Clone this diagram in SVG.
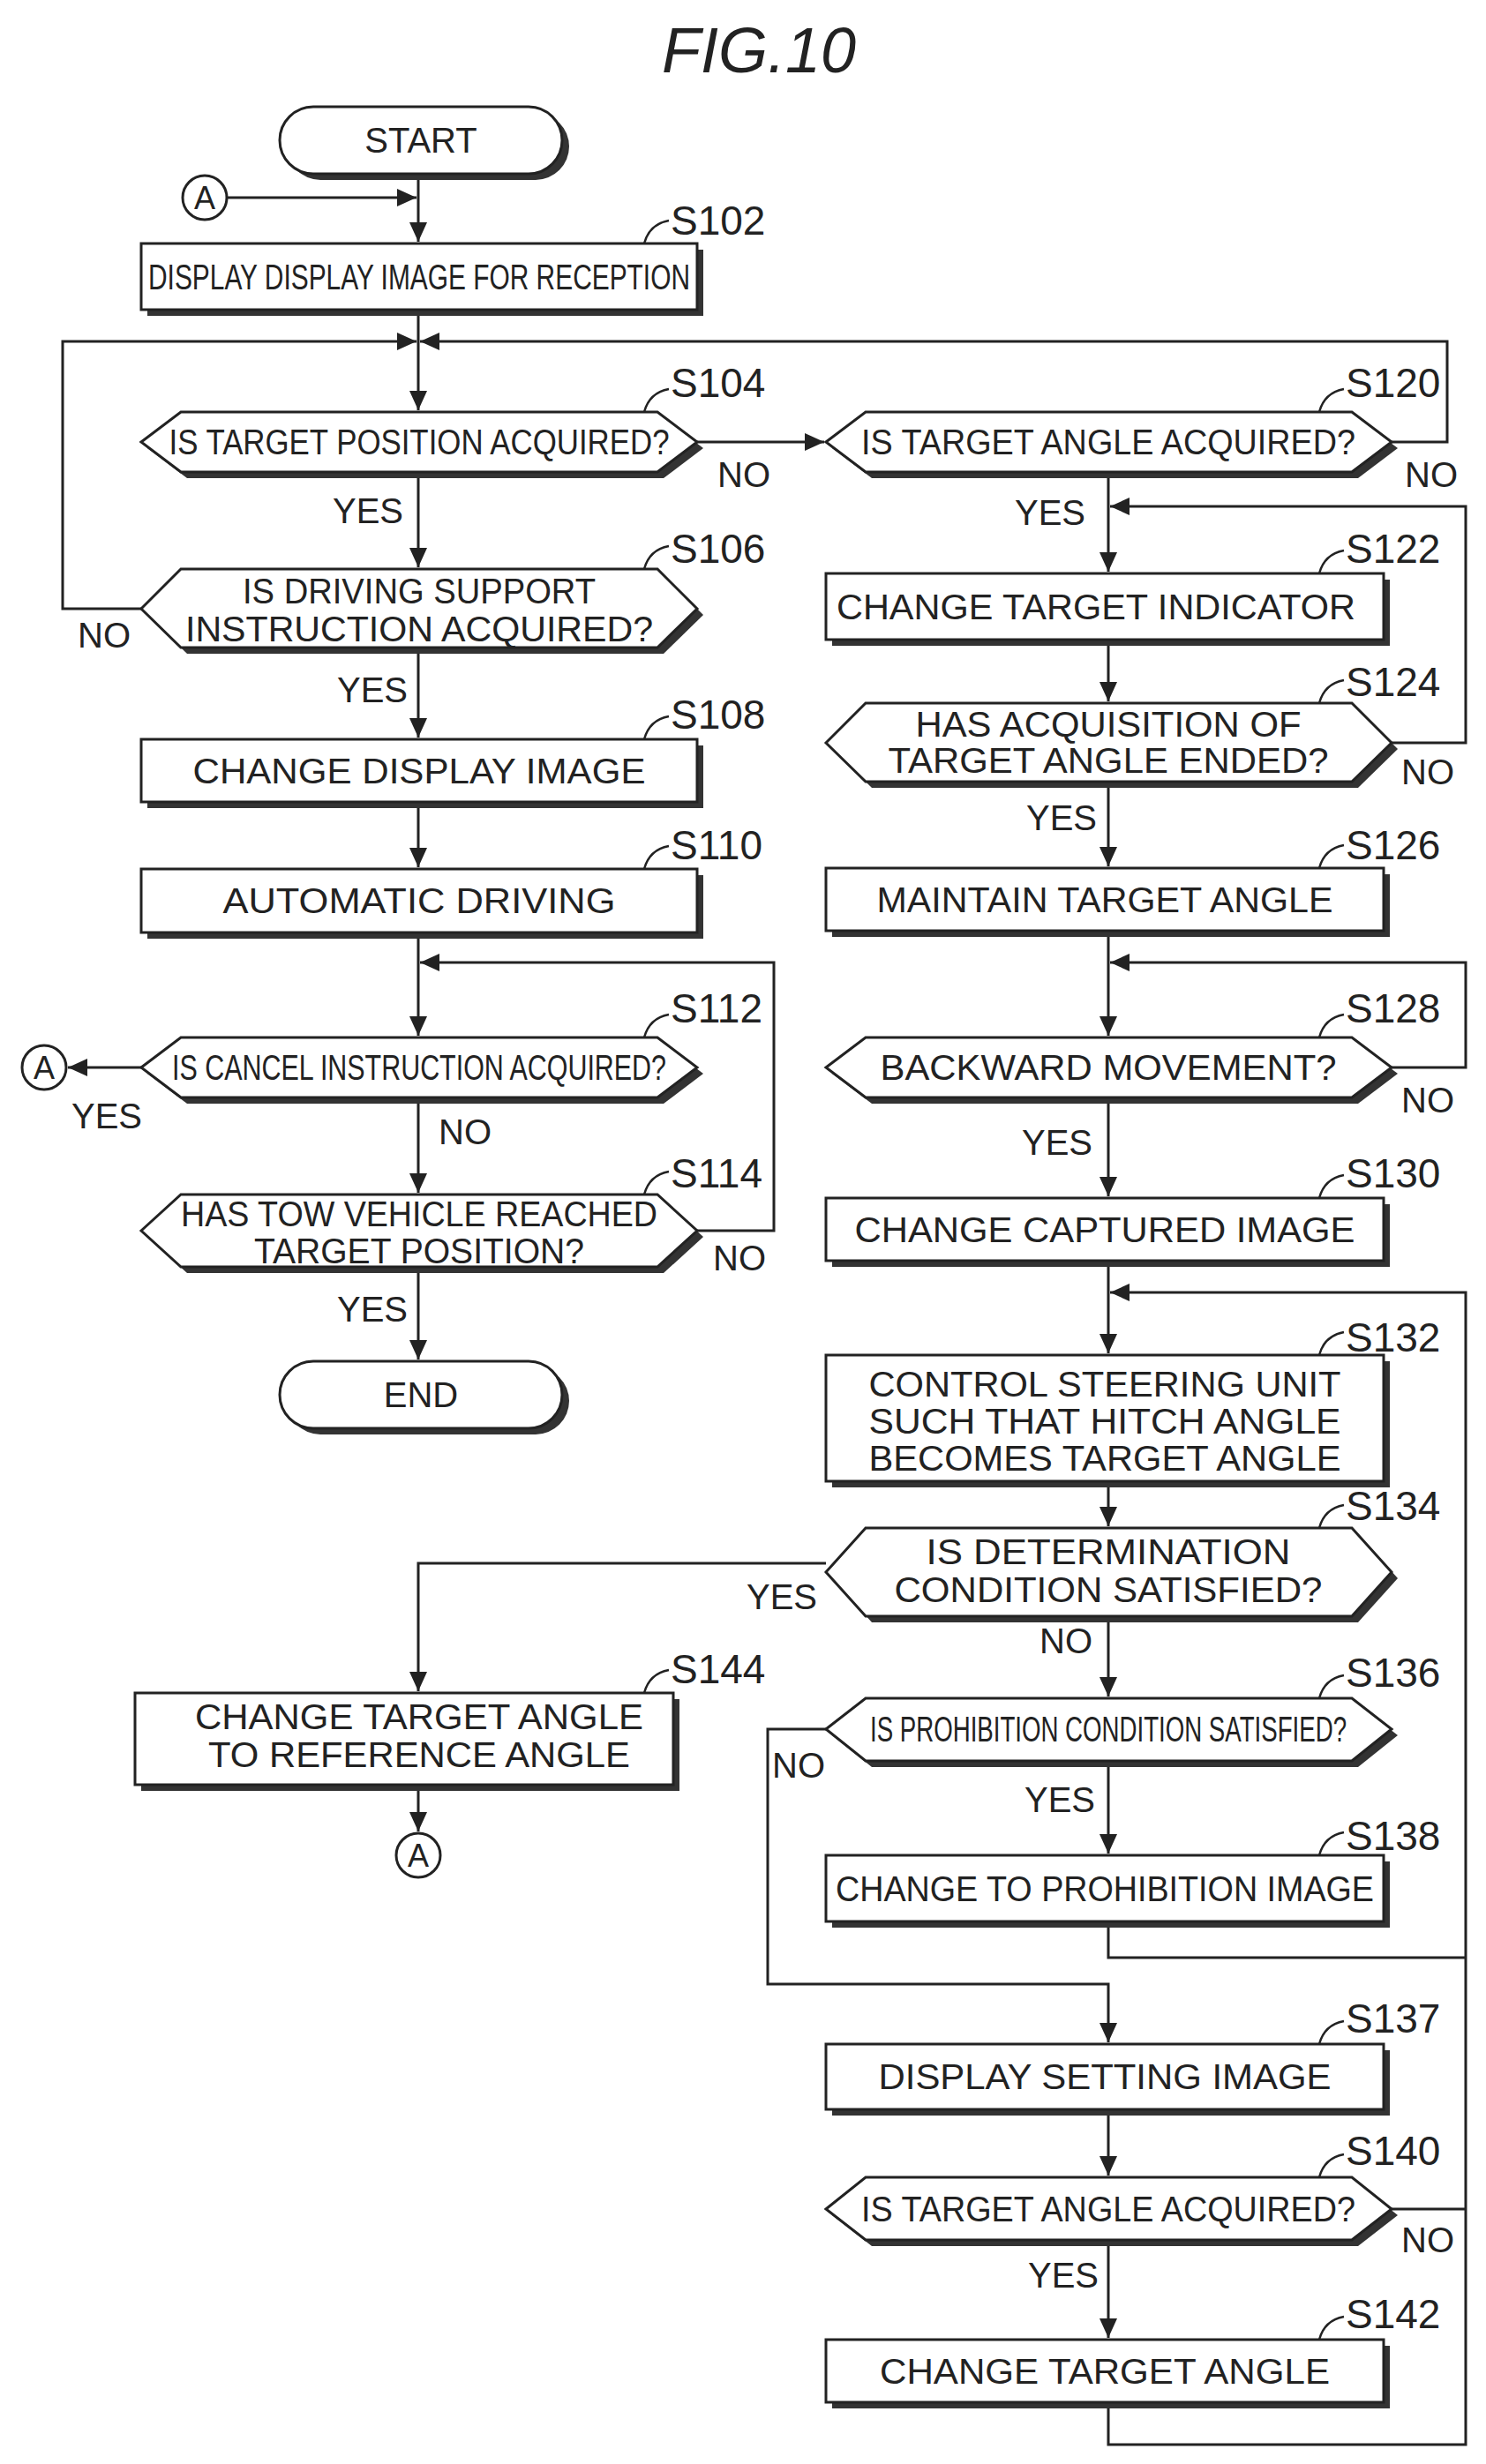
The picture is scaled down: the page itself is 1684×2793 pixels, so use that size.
<svg xmlns="http://www.w3.org/2000/svg" width="1684" height="2793" viewBox="0 0 1684 2793">
<style>
.sh{fill:#333;stroke:none}
.nd{fill:#fff;stroke:#222;stroke-width:3}
.t{font-family:"Liberation Sans",Arial,sans-serif;font-size:40px;fill:#222;text-anchor:middle;dominant-baseline:central}
.sl{font-family:"Liberation Sans",Arial,sans-serif;font-size:46px;fill:#222;dominant-baseline:central}
.ld{fill:none;stroke:#222;stroke-width:2.5}
.c{fill:none;stroke:#222;stroke-width:3}
</style>
<defs>
<marker id="ar" markerUnits="userSpaceOnUse" markerWidth="24" markerHeight="24" refX="22" refY="12" orient="auto">
<path d="M0,2 L22,12 L0,22 Z" fill="#222"/>
</marker>
</defs>
<text x="860" y="57" class="t" style="font-size:72px;font-style:italic">FIG.10</text>

<g id="connectors" class="c">
<path d="M474,198 V274" marker-end="url(#ar)"/>
<path d="M257,224 H472" marker-end="url(#ar)"/>
<path d="M474,351 V465" marker-end="url(#ar)"/>
<path d="M160,690 H71 V387 H472" marker-end="url(#ar)"/>
<path d="M1577,501 H1640 V387 H476" marker-end="url(#ar)"/>
<path d="M474,535 V643" marker-end="url(#ar)"/>
<path d="M474,734 V836" marker-end="url(#ar)"/>
<path d="M474,909 V983" marker-end="url(#ar)"/>
<path d="M474,1057 V1174" marker-end="url(#ar)"/>
<path d="M790,1395 H877 V1091 H476" marker-end="url(#ar)"/>
<path d="M160,1210 H77" marker-end="url(#ar)"/>
<path d="M474,1244 V1352" marker-end="url(#ar)"/>
<path d="M474,1436 V1541" marker-end="url(#ar)"/>
<path d="M790,501 H934" marker-end="url(#ar)"/>
<path d="M1256,535 V648" marker-end="url(#ar)"/>
<path d="M1577,842 H1661 V574 H1258" marker-end="url(#ar)"/>
<path d="M1256,725 V795" marker-end="url(#ar)"/>
<path d="M1256,886 V982" marker-end="url(#ar)"/>
<path d="M1256,1055 V1174" marker-end="url(#ar)"/>
<path d="M1577,1210 H1661 V1091 H1258" marker-end="url(#ar)"/>
<path d="M1256,1244 V1356" marker-end="url(#ar)"/>
<path d="M1256,1429 V1534" marker-end="url(#ar)"/>
<path d="M1256,2723 V2771 H1661 V1465 H1258" marker-end="url(#ar)"/>
<path d="M1256,2178 V2219 H1661"/>
<path d="M1577,2504 H1661"/>
<path d="M1256,1679 V1730" marker-end="url(#ar)"/>
<path d="M936,1772 H474 V1917" marker-end="url(#ar)"/>
<path d="M1256,1832 V1923" marker-end="url(#ar)"/>
<path d="M936,1960 H870 V2249 H1256 V2315" marker-end="url(#ar)"/>
<path d="M1256,1996 V2101" marker-end="url(#ar)"/>
<path d="M1256,2391 V2466" marker-end="url(#ar)"/>
<path d="M1256,2539 V2650" marker-end="url(#ar)"/>
<path d="M474,2023 V2076" marker-end="url(#ar)"/>
</g>

<g id="start"><rect x="325" y="128" width="320" height="76" rx="38" class="sh"/><rect x="317" y="121" width="320" height="76" rx="38" class="nd"/><text x="477" y="159" class="t">START</text></g>
<g id="connA1"><circle cx="232" cy="224" r="25" class="nd"/><text x="232" y="224" class="t" style="font-size:36px">A</text></g>

<g id="s102"><rect x="167" y="283" width="630" height="75" class="sh"/><rect x="160" y="276" width="630" height="75" class="nd"/><text x="475" y="314" class="t" textLength="614" lengthAdjust="spacingAndGlyphs">DISPLAY DISPLAY IMAGE FOR RECEPTION</text><path d="M730,276 q6,-22 28,-26" class="ld"/><text x="760" y="250" class="sl">S102</text></g>

<g id="s104"><polygon points="167,508 212,474 752,474 797,508 752,542 212,542" class="sh"/><polygon points="160,501 205,467 745,467 790,501 745,535 205,535" class="nd"/><text x="475" y="501" class="t" textLength="567" lengthAdjust="spacingAndGlyphs">IS TARGET POSITION ACQUIRED?</text><path d="M730,467 q6,-22 28,-26" class="ld"/><text x="760" y="434" class="sl">S104</text></g>

<g id="s106"><polygon points="167,697 212,652 752,652 797,697 752,741 212,741" class="sh"/><polygon points="160,690 205,645 745,645 790,690 745,734 205,734" class="nd"/><text x="475" y="670" class="t" textLength="400" lengthAdjust="spacingAndGlyphs">IS DRIVING SUPPORT</text><text x="475" y="713" class="t" textLength="530" lengthAdjust="spacingAndGlyphs">INSTRUCTION ACQUIRED?</text><path d="M730,645 q6,-22 28,-26" class="ld"/><text x="760" y="622" class="sl">S106</text></g>

<g id="s108"><rect x="167" y="845" width="630" height="71" class="sh"/><rect x="160" y="838" width="630" height="71" class="nd"/><text x="475" y="874" class="t" textLength="513" lengthAdjust="spacingAndGlyphs">CHANGE DISPLAY IMAGE</text><path d="M730,838 q6,-22 28,-26" class="ld"/><text x="760" y="810" class="sl">S108</text></g>

<g id="s110"><rect x="167" y="992" width="630" height="72" class="sh"/><rect x="160" y="985" width="630" height="72" class="nd"/><text x="475" y="1021" class="t" textLength="445" lengthAdjust="spacingAndGlyphs">AUTOMATIC DRIVING</text><path d="M730,985 q6,-22 28,-26" class="ld"/><text x="760" y="958" class="sl">S110</text></g>

<g id="s112"><polygon points="167,1217 212,1183 752,1183 797,1217 752,1251 212,1251" class="sh"/><polygon points="160,1210 205,1176 745,1176 790,1210 745,1244 205,1244" class="nd"/><text x="475" y="1210" class="t" textLength="560" lengthAdjust="spacingAndGlyphs">IS CANCEL INSTRUCTION ACQUIRED?</text><path d="M730,1176 q6,-22 28,-26" class="ld"/><text x="760" y="1143" class="sl">S112</text></g>
<g id="connA2"><circle cx="50" cy="1210" r="25" class="nd"/><text x="50" y="1210" class="t" style="font-size:36px">A</text></g>

<g id="s114"><polygon points="167,1402 212,1361 752,1361 797,1402 752,1443 212,1443" class="sh"/><polygon points="160,1395 205,1354 745,1354 790,1395 745,1436 205,1436" class="nd"/><text x="475" y="1376" class="t" textLength="540" lengthAdjust="spacingAndGlyphs">HAS TOW VEHICLE REACHED</text><text x="475" y="1418" class="t" textLength="374" lengthAdjust="spacingAndGlyphs">TARGET POSITION?</text><path d="M730,1354 q6,-22 28,-26" class="ld"/><text x="760" y="1330" class="sl">S114</text></g>

<g id="end"><rect x="325" y="1550" width="320" height="76" rx="38" class="sh"/><rect x="317" y="1543" width="320" height="76" rx="38" class="nd"/><text x="477" y="1581" class="t">END</text></g>

<g id="s120"><polygon points="943,508 988,474 1539,474 1584,508 1539,542 988,542" class="sh"/><polygon points="936,501 981,467 1532,467 1577,501 1532,535 981,535" class="nd"/><text x="1256" y="501" class="t" textLength="560" lengthAdjust="spacingAndGlyphs">IS TARGET ANGLE ACQUIRED?</text><path d="M1495,467 q6,-22 28,-26" class="ld"/><text x="1525" y="434" class="sl">S120</text></g>

<g id="s122"><rect x="943" y="657" width="632" height="75" class="sh"/><rect x="936" y="650" width="632" height="75" class="nd"/><text x="1242" y="688" class="t" textLength="588" lengthAdjust="spacingAndGlyphs">CHANGE TARGET INDICATOR</text><path d="M1495,650 q6,-22 28,-26" class="ld"/><text x="1525" y="622" class="sl">S122</text></g>

<g id="s124"><polygon points="943,849 988,804 1539,804 1584,849 1539,893 988,893" class="sh"/><polygon points="936,842 981,797 1532,797 1577,842 1532,886 981,886" class="nd"/><text x="1256" y="821" class="t" textLength="437" lengthAdjust="spacingAndGlyphs">HAS ACQUISITION OF</text><text x="1256" y="862" class="t" textLength="499" lengthAdjust="spacingAndGlyphs">TARGET ANGLE ENDED?</text><path d="M1495,797 q6,-22 28,-26" class="ld"/><text x="1525" y="773" class="sl">S124</text></g>

<g id="s126"><rect x="943" y="991" width="632" height="71" class="sh"/><rect x="936" y="984" width="632" height="71" class="nd"/><text x="1252" y="1020" class="t" textLength="517" lengthAdjust="spacingAndGlyphs">MAINTAIN TARGET ANGLE</text><path d="M1495,984 q6,-22 28,-26" class="ld"/><text x="1525" y="958" class="sl">S126</text></g>

<g id="s128"><polygon points="943,1217 988,1183 1539,1183 1584,1217 1539,1251 988,1251" class="sh"/><polygon points="936,1210 981,1176 1532,1176 1577,1210 1532,1244 981,1244" class="nd"/><text x="1256" y="1210" class="t" textLength="517" lengthAdjust="spacingAndGlyphs">BACKWARD MOVEMENT?</text><path d="M1495,1176 q6,-22 28,-26" class="ld"/><text x="1525" y="1143" class="sl">S128</text></g>

<g id="s130"><rect x="943" y="1365" width="632" height="71" class="sh"/><rect x="936" y="1358" width="632" height="71" class="nd"/><text x="1252" y="1394" class="t" textLength="567" lengthAdjust="spacingAndGlyphs">CHANGE CAPTURED IMAGE</text><path d="M1495,1358 q6,-22 28,-26" class="ld"/><text x="1525" y="1330" class="sl">S130</text></g>

<g id="s132"><rect x="943" y="1543" width="632" height="143" class="sh"/><rect x="936" y="1536" width="632" height="143" class="nd"/><text x="1252" y="1569" class="t" textLength="535" lengthAdjust="spacingAndGlyphs">CONTROL STEERING UNIT</text><text x="1252" y="1611" class="t" textLength="535" lengthAdjust="spacingAndGlyphs">SUCH THAT HITCH ANGLE</text><text x="1252" y="1653" class="t" textLength="535" lengthAdjust="spacingAndGlyphs">BECOMES TARGET ANGLE</text><path d="M1495,1536 q6,-22 28,-26" class="ld"/><text x="1525" y="1516" class="sl">S132</text></g>

<g id="s134"><polygon points="943,1789 988,1739 1539,1739 1584,1789 1539,1839 988,1839" class="sh"/><polygon points="936,1782 981,1732 1532,1732 1577,1782 1532,1832 981,1832" class="nd"/><text x="1256" y="1759" class="t" textLength="413" lengthAdjust="spacingAndGlyphs">IS DETERMINATION</text><text x="1256" y="1802" class="t" textLength="485" lengthAdjust="spacingAndGlyphs">CONDITION SATISFIED?</text><path d="M1495,1732 q6,-22 28,-26" class="ld"/><text x="1525" y="1707" class="sl">S134</text></g>

<g id="s144"><rect x="160" y="1926" width="610" height="104" class="sh"/><rect x="153" y="1919" width="610" height="104" class="nd"/><text x="475" y="1946" class="t" textLength="508" lengthAdjust="spacingAndGlyphs">CHANGE TARGET ANGLE</text><text x="475" y="1989" class="t" textLength="478" lengthAdjust="spacingAndGlyphs">TO REFERENCE ANGLE</text><path d="M730,1919 q6,-22 28,-26" class="ld"/><text x="760" y="1892" class="sl">S144</text></g>
<g id="connA3"><circle cx="474" cy="2103" r="25" class="nd"/><text x="474" y="2103" class="t" style="font-size:36px">A</text></g>

<g id="s136"><polygon points="943,1967 988,1932 1539,1932 1584,1967 1539,2003 988,2003" class="sh"/><polygon points="936,1960 981,1925 1532,1925 1577,1960 1532,1996 981,1996" class="nd"/><text x="1256" y="1960" class="t" textLength="540" lengthAdjust="spacingAndGlyphs">IS PROHIBITION CONDITION SATISFIED?</text><path d="M1495,1925 q6,-22 28,-26" class="ld"/><text x="1525" y="1896" class="sl">S136</text></g>

<g id="s138"><rect x="943" y="2110" width="632" height="75" class="sh"/><rect x="936" y="2103" width="632" height="75" class="nd"/><text x="1252" y="2141" class="t" textLength="610" lengthAdjust="spacingAndGlyphs">CHANGE TO PROHIBITION IMAGE</text><path d="M1495,2103 q6,-22 28,-26" class="ld"/><text x="1525" y="2081" class="sl">S138</text></g>

<g id="s137"><rect x="943" y="2324" width="632" height="74" class="sh"/><rect x="936" y="2317" width="632" height="74" class="nd"/><text x="1252" y="2354" class="t" textLength="513" lengthAdjust="spacingAndGlyphs">DISPLAY SETTING IMAGE</text><path d="M1495,2317 q6,-22 28,-26" class="ld"/><text x="1525" y="2288" class="sl">S137</text></g>

<g id="s140"><polygon points="943,2511 988,2475 1539,2475 1584,2511 1539,2546 988,2546" class="sh"/><polygon points="936,2504 981,2468 1532,2468 1577,2504 1532,2539 981,2539" class="nd"/><text x="1256" y="2504" class="t" textLength="560" lengthAdjust="spacingAndGlyphs">IS TARGET ANGLE ACQUIRED?</text><path d="M1495,2468 q6,-22 28,-26" class="ld"/><text x="1525" y="2438" class="sl">S140</text></g>

<g id="s142"><rect x="943" y="2659" width="632" height="71" class="sh"/><rect x="936" y="2652" width="632" height="71" class="nd"/><text x="1252" y="2688" class="t" textLength="510" lengthAdjust="spacingAndGlyphs">CHANGE TARGET ANGLE</text><path d="M1495,2652 q6,-22 28,-26" class="ld"/><text x="1525" y="2623" class="sl">S142</text></g>

<g id="labels">
<text x="417" y="579" class="t">YES</text>
<text x="843" y="538" class="t">NO</text>
<text x="422" y="782" class="t">YES</text>
<text x="118" y="720" class="t">NO</text>
<text x="121" y="1265" class="t">YES</text>
<text x="527" y="1283" class="t">NO</text>
<text x="838" y="1426" class="t">NO</text>
<text x="422" y="1484" class="t">YES</text>
<text x="1622" y="538" class="t">NO</text>
<text x="1190" y="581" class="t">YES</text>
<text x="1618" y="875" class="t">NO</text>
<text x="1203" y="927" class="t">YES</text>
<text x="1618" y="1247" class="t">NO</text>
<text x="1198" y="1295" class="t">YES</text>
<text x="886" y="1810" class="t">YES</text>
<text x="1208" y="1860" class="t">NO</text>
<text x="905" y="2001" class="t">NO</text>
<text x="1201" y="2040" class="t">YES</text>
<text x="1618" y="2539" class="t">NO</text>
<text x="1205" y="2579" class="t">YES</text>
</g>
</svg>
